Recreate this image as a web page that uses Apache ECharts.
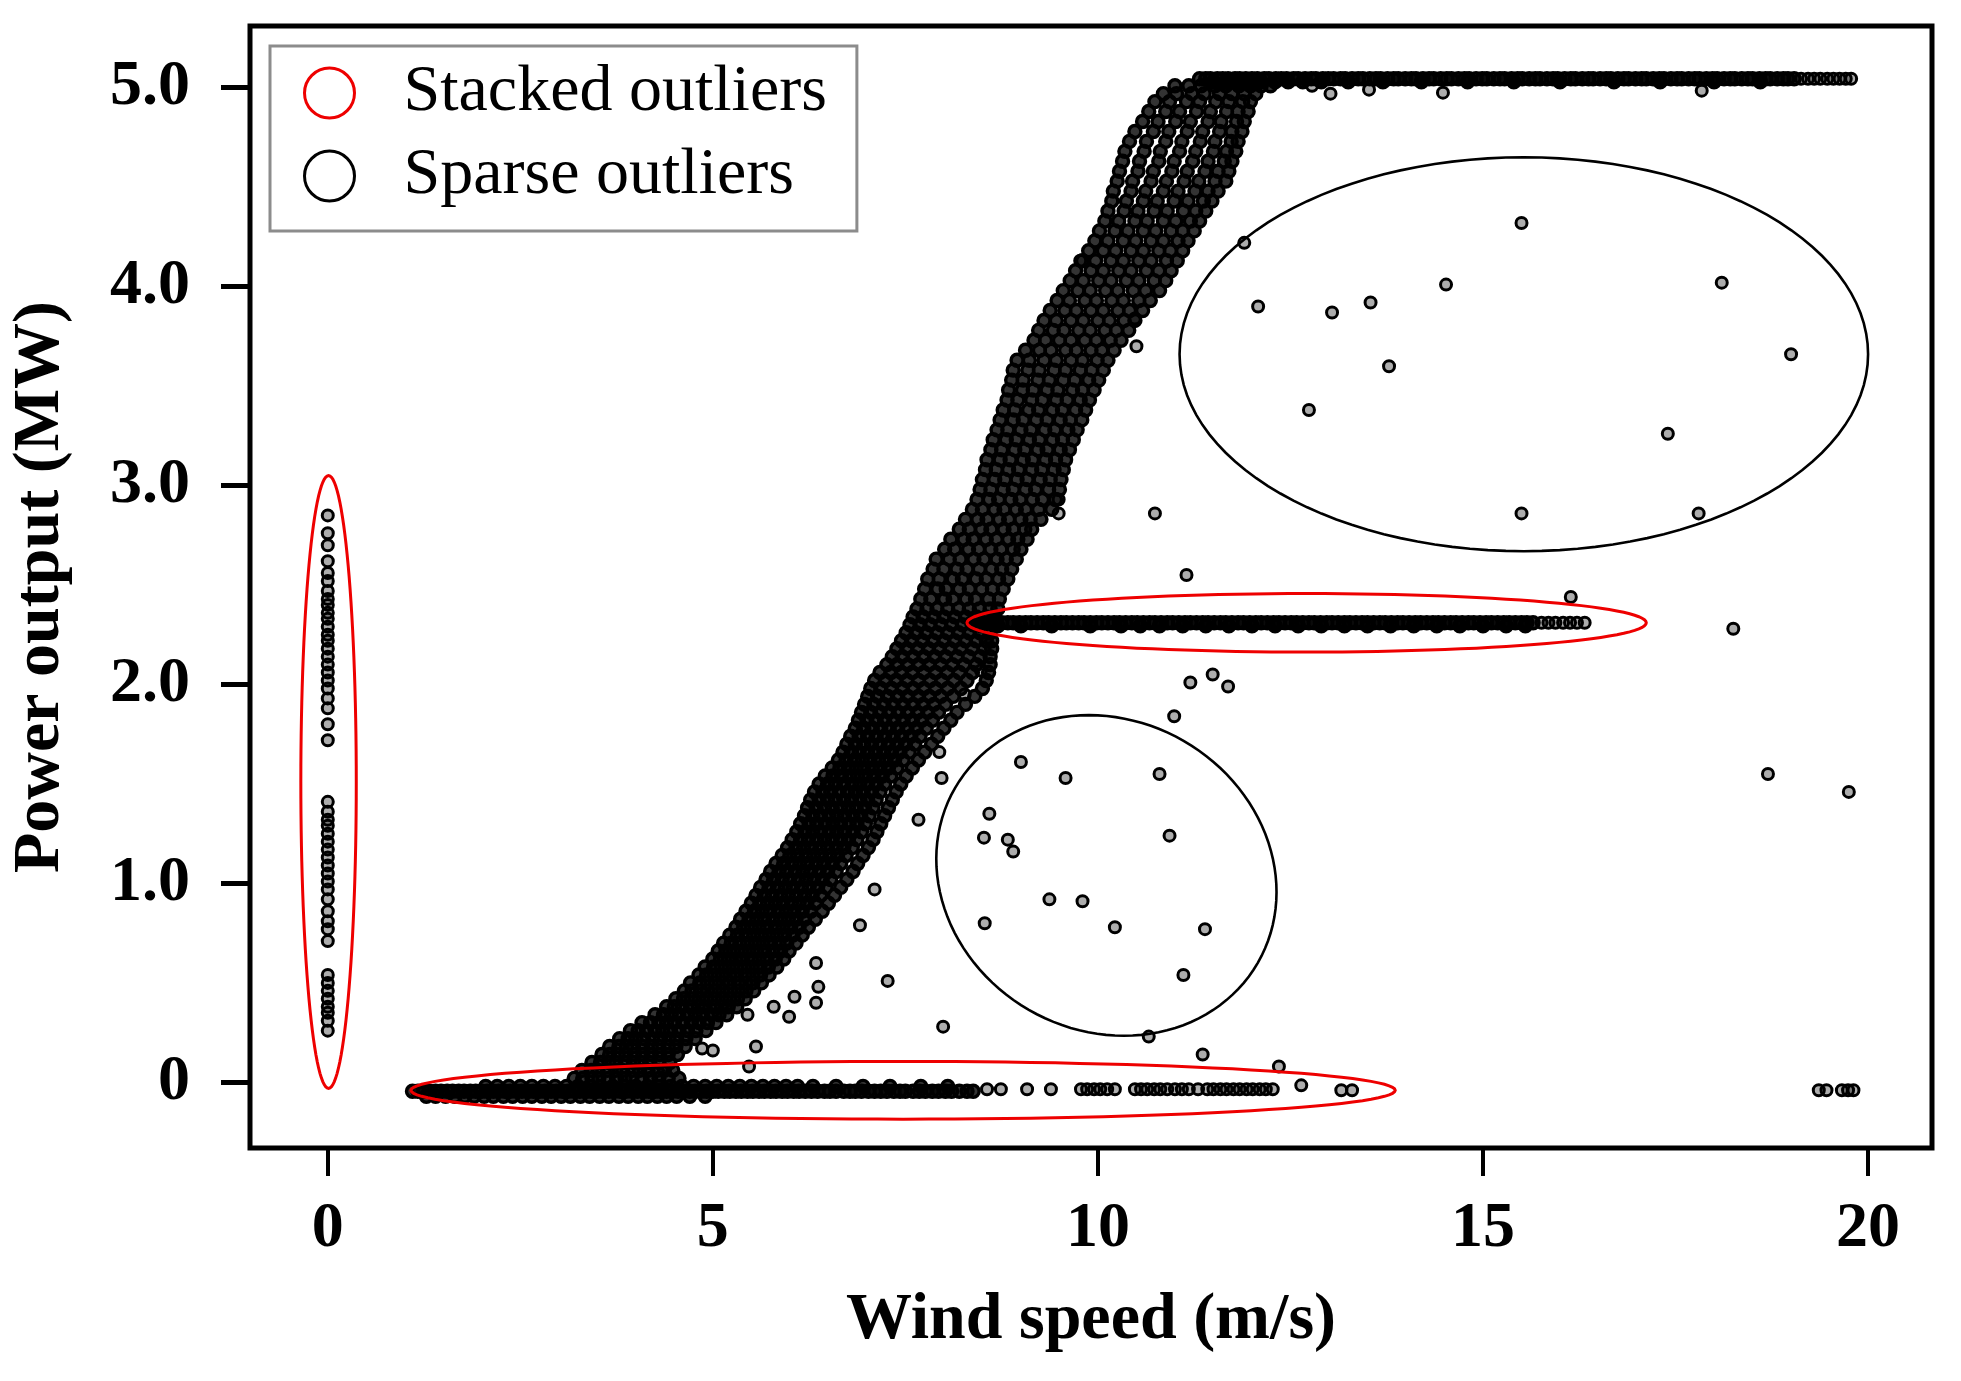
<!DOCTYPE html>
<html>
<head>
<meta charset="utf-8">
<title>Wind power curve outliers</title>
<script src="https://cdn.jsdelivr.net/npm/echarts@6/dist/echarts.min.js"></script>
<style>
html, body { margin: 0; padding: 0; background: #fff; }
#chart { width: 1961px; height: 1381px; }
</style>
</head>
<body>
<div id="chart"></div>
<script>
var serif = "'Liberation Serif', 'Times New Roman', serif";

// axis ticks
var xTicks = [0, 5, 10, 15, 20];
var yTicks = [0, 1, 2, 3, 4, 5];

// power recorded while wind speed reads 0 (transmission failure)
var zeroSpeedPower = [2.85, 2.76, 2.7, 2.62, 2.56, 2.52, 2.47, 2.43, 2.4, 2.36, 2.33, 2.29, 2.25, 2.22, 2.18, 2.14, 2.1, 2.06, 2.02, 1.98, 1.93, 1.88, 1.8, 1.72,
  1.41, 1.36, 1.32, 1.29, 1.25, 1.21, 1.17, 1.13, 1.09, 1.05, 1.01, 0.97, 0.92, 0.86, 0.81, 0.77, 0.71,
  0.54, 0.5, 0.46, 0.42, 0.38, 0.35, 0.31, 0.26];

// main power curve: [power, speed, speed, ...]
var curveRows = [
  [0.02, 3.2, 3.31, 3.43, 3.52, 3.64, 3.75, 3.86, 3.95, 4.08, 4.19, 4.3, 4.42, 4.56],
  [0.06, 3.3, 3.42, 3.51, 3.63, 3.74, 3.83, 3.96, 4.05, 4.16, 4.28, 4.37, 4.48],
  [0.10, 3.43, 3.54, 3.65, 3.74, 3.86, 3.97, 4.07, 4.18, 4.3, 4.44],
  [0.14, 3.56, 3.66, 3.77, 3.87, 3.98, 4.09, 4.2, 4.31, 4.42, 4.54],
  [0.18, 3.66, 3.78, 3.88, 3.97, 4.09, 4.2, 4.3, 4.42, 4.52, 4.64],
  [0.22, 3.79, 3.9, 4.0, 4.1, 4.22, 4.32, 4.43, 4.53, 4.65, 4.77],
  [0.26, 3.93, 4.03, 4.14, 4.25, 4.35, 4.45, 4.56, 4.67, 4.78, 4.91],
  [0.30, 4.08, 4.19, 4.3, 4.4, 4.5, 4.61, 4.72, 4.82, 4.93, 5.04],
  [0.34, 4.25, 4.36, 4.46, 4.56, 4.67, 4.77, 4.87, 4.98, 5.08, 5.18],
  [0.38, 4.4, 4.5, 4.6, 4.71, 4.81, 4.9, 5.01, 5.11, 5.2, 5.31],
  [0.42, 4.52, 4.62, 4.72, 4.82, 4.92, 5.02, 5.12, 5.22, 5.32, 5.42],
  [0.46, 4.63, 4.73, 4.84, 4.93, 5.03, 5.13, 5.23, 5.33, 5.43, 5.53],
  [0.50, 4.71, 4.83, 4.93, 5.03, 5.13, 5.22, 5.33, 5.43, 5.52, 5.63],
  [0.54, 4.82, 4.92, 5.02, 5.12, 5.22, 5.31, 5.42, 5.52, 5.62, 5.73],
  [0.58, 4.9, 5.01, 5.11, 5.21, 5.31, 5.41, 5.51, 5.61, 5.72, 5.83],
  [0.62, 5.0, 5.1, 5.2, 5.3, 5.39, 5.5, 5.6, 5.7, 5.81, 5.92],
  [0.66, 5.07, 5.17, 5.27, 5.37, 5.47, 5.57, 5.67, 5.78, 5.88, 5.99],
  [0.70, 5.14, 5.24, 5.35, 5.45, 5.55, 5.65, 5.75, 5.86, 5.96, 6.08],
  [0.74, 5.22, 5.32, 5.43, 5.53, 5.63, 5.73, 5.83, 5.93, 6.04, 6.16],
  [0.78, 5.3, 5.4, 5.5, 5.6, 5.7, 5.81, 5.91, 6.01, 6.12, 6.24],
  [0.82, 5.36, 5.47, 5.57, 5.67, 5.78, 5.88, 5.98, 6.08, 6.19, 6.33],
  [0.86, 5.43, 5.54, 5.64, 5.74, 5.85, 5.95, 6.05, 6.16, 6.27, 6.42],
  [0.90, 5.5, 5.61, 5.71, 5.81, 5.91, 6.02, 6.12, 6.22, 6.33, 6.5],
  [0.94, 5.56, 5.67, 5.77, 5.88, 5.98, 6.08, 6.19, 6.29, 6.4, 6.58],
  [0.98, 5.62, 5.73, 5.84, 5.94, 6.04, 6.15, 6.25, 6.36, 6.47, 6.66],
  [1.02, 5.69, 5.79, 5.9, 6.0, 6.11, 6.21, 6.31, 6.42, 6.53, 6.74],
  [1.06, 5.75, 5.86, 5.96, 6.07, 6.17, 6.27, 6.38, 6.49, 6.6, 6.82],
  [1.10, 5.82, 5.92, 6.03, 6.13, 6.23, 6.34, 6.44, 6.55, 6.66, 6.88],
  [1.14, 5.9, 6.0, 6.1, 6.21, 6.31, 6.41, 6.52, 6.62, 6.73, 6.95],
  [1.18, 5.97, 6.08, 6.18, 6.28, 6.39, 6.49, 6.6, 6.7, 6.81, 7.02],
  [1.22, 6.03, 6.14, 6.24, 6.35, 6.45, 6.55, 6.66, 6.76, 6.87, 7.08],
  [1.26, 6.09, 6.2, 6.3, 6.4, 6.51, 6.61, 6.71, 6.82, 6.93, 7.13],
  [1.30, 6.14, 6.25, 6.35, 6.46, 6.56, 6.66, 6.77, 6.87, 6.98, 7.18],
  [1.34, 6.19, 6.3, 6.4, 6.51, 6.61, 6.71, 6.82, 6.92, 7.03, 7.23],
  [1.38, 6.23, 6.34, 6.45, 6.55, 6.66, 6.76, 6.86, 6.97, 7.08, 7.28],
  [1.42, 6.27, 6.38, 6.49, 6.59, 6.7, 6.8, 6.91, 7.01, 7.12, 7.33],
  [1.46, 6.32, 6.43, 6.53, 6.64, 6.75, 6.85, 6.95, 7.06, 7.17, 7.38],
  [1.50, 6.38, 6.49, 6.59, 6.7, 6.81, 6.91, 7.01, 7.12, 7.23, 7.44],
  [1.54, 6.46, 6.56, 6.67, 6.78, 6.88, 6.98, 7.09, 7.2, 7.31, 7.51],
  [1.58, 6.55, 6.65, 6.76, 6.86, 6.96, 7.07, 7.17, 7.28, 7.39, 7.59],
  [1.62, 6.63, 6.73, 6.84, 6.94, 7.04, 7.15, 7.25, 7.36, 7.47, 7.67],
  [1.66, 6.69, 6.8, 6.9, 7.01, 7.11, 7.22, 7.32, 7.43, 7.55, 7.75],
  [1.70, 6.74, 6.85, 6.96, 7.06, 7.17, 7.28, 7.39, 7.5, 7.62, 7.84],
  [1.74, 6.79, 6.9, 7.01, 7.12, 7.23, 7.34, 7.45, 7.57, 7.69, 7.92],
  [1.78, 6.85, 6.96, 7.07, 7.18, 7.29, 7.4, 7.52, 7.64, 7.77, 8.0],
  [1.82, 6.89, 7.0, 7.12, 7.23, 7.35, 7.47, 7.59, 7.71, 7.85, 8.09],
  [1.86, 6.93, 7.05, 7.17, 7.29, 7.41, 7.53, 7.66, 7.79, 7.93, 8.17],
  [1.90, 6.97, 7.09, 7.22, 7.34, 7.47, 7.6, 7.73, 7.87, 8.02, 8.28],
  [1.94, 7.01, 7.14, 7.27, 7.4, 7.53, 7.67, 7.81, 7.96, 8.12, 8.4],
  [1.98, 7.05, 7.18, 7.32, 7.46, 7.6, 7.74, 7.89, 8.05, 8.22, 8.5],
  [2.02, 7.1, 7.24, 7.38, 7.52, 7.67, 7.82, 7.97, 8.13, 8.3, 8.55],
  [2.06, 7.17, 7.31, 7.45, 7.59, 7.74, 7.89, 8.04, 8.2, 8.37, 8.58],
  [2.10, 7.26, 7.39, 7.53, 7.67, 7.81, 7.96, 8.11, 8.26, 8.42, 8.6],
  [2.14, 7.33, 7.46, 7.6, 7.74, 7.88, 8.02, 8.17, 8.32, 8.47, 8.6],
  [2.18, 7.39, 7.52, 7.66, 7.8, 7.94, 8.08, 8.22, 8.37, 8.52, 8.62],
  [2.22, 7.45, 7.58, 7.72, 7.86, 8.0, 8.14, 8.28, 8.42, 8.55, 8.62],
  [2.26, 7.51, 7.64, 7.77, 7.91, 8.05, 8.19, 8.33, 8.47, 8.6],
  [2.30, 7.56, 7.69, 7.82, 7.96, 8.1, 8.24, 8.38, 8.51, 8.64],
  [2.34, 7.6, 7.73, 7.87, 8.0, 8.14, 8.28, 8.42, 8.55, 8.66],
  [2.38, 7.65, 7.78, 7.91, 8.05, 8.19, 8.33, 8.46, 8.6, 8.7],
  [2.43, 7.7, 7.83, 8.01, 8.12, 8.29, 8.41, 8.58, 8.72],
  [2.48, 7.75, 7.92, 8.03, 8.2, 8.33, 8.49, 8.63, 8.77],
  [2.53, 7.79, 7.94, 8.12, 8.24, 8.42, 8.55, 8.71, 8.83],
  [2.58, 7.86, 8.0, 8.17, 8.3, 8.46, 8.62, 8.75, 8.88],
  [2.63, 7.9, 8.07, 8.21, 8.39, 8.52, 8.69, 8.81, 8.94],
  [2.68, 8.01, 8.14, 8.32, 8.45, 8.61, 8.74, 8.9, 9.0],
  [2.73, 8.09, 8.26, 8.38, 8.55, 8.68, 8.84, 8.96, 9.08],
  [2.78, 8.2, 8.33, 8.49, 8.61, 8.78, 8.9, 9.05, 9.14],
  [2.83, 8.28, 8.44, 8.56, 8.72, 8.84, 9.0, 9.12, 9.26],
  [2.88, 8.37, 8.5, 8.66, 8.78, 8.94, 9.06, 9.23, 9.4],
  [2.93, 8.43, 8.59, 8.71, 8.87, 8.99, 9.15, 9.28, 9.45],
  [2.98, 8.47, 8.61, 8.77, 8.9, 9.06, 9.19, 9.36, 9.5],
  [3.03, 8.5, 8.66, 8.79, 8.95, 9.08, 9.25, 9.38, 9.52],
  [3.08, 8.54, 8.68, 8.84, 8.97, 9.14, 9.27, 9.43, 9.55],
  [3.13, 8.56, 8.73, 8.86, 9.03, 9.15, 9.32, 9.45, 9.58],
  [3.18, 8.61, 8.75, 8.92, 9.05, 9.22, 9.34, 9.51, 9.63],
  [3.23, 8.64, 8.81, 8.94, 9.11, 9.24, 9.41, 9.54, 9.68],
  [3.28, 8.69, 8.83, 9.0, 9.13, 9.31, 9.44, 9.61, 9.73],
  [3.33, 8.73, 8.9, 9.03, 9.2, 9.34, 9.51, 9.64, 9.79],
  [3.38, 8.77, 8.92, 9.1, 9.23, 9.41, 9.54, 9.71, 9.84],
  [3.43, 8.82, 8.96, 9.14, 9.28, 9.46, 9.6, 9.77, 9.89],
  [3.48, 8.84, 9.02, 9.16, 9.34, 9.48, 9.67, 9.8, 9.95],
  [3.53, 8.88, 9.03, 9.22, 9.37, 9.55, 9.7, 9.88, 10.01],
  [3.58, 8.9, 9.09, 9.24, 9.43, 9.58, 9.77, 9.92, 10.07],
  [3.63, 8.95, 9.11, 9.3, 9.46, 9.65, 9.8, 9.99, 10.13],
  [3.68, 9.06, 9.24, 9.39, 9.58, 9.72, 9.91, 10.05, 10.21],
  [3.73, 9.17, 9.32, 9.5, 9.65, 9.83, 9.98, 10.16, 10.3],
  [3.78, 9.23, 9.42, 9.56, 9.75, 9.9, 10.09, 10.24, 10.4],
  [3.83, 9.3, 9.46, 9.65, 9.81, 10.0, 10.15, 10.34, 10.48],
  [3.88, 9.38, 9.57, 9.72, 9.91, 10.07, 10.26, 10.41, 10.58],
  [3.93, 9.47, 9.63, 9.83, 9.98, 10.18, 10.33, 10.53, 10.68],
  [3.98, 9.55, 9.74, 9.9, 10.1, 10.26, 10.46, 10.62, 10.8],
  [4.03, 9.64, 9.81, 10.01, 10.17, 10.37, 10.53, 10.73, 10.88],
  [4.08, 9.71, 9.91, 10.07, 10.27, 10.43, 10.63, 10.79, 10.95],
  [4.13, 9.8, 9.97, 10.17, 10.33, 10.53, 10.69, 10.89, 11.03],
  [4.18, 9.88, 10.07, 10.23, 10.43, 10.59, 10.79, 10.94, 11.1],
  [4.23, 9.96, 10.13, 10.33, 10.49, 10.69, 10.85, 11.04, 11.17],
  [4.28, 10.02, 10.22, 10.39, 10.59, 10.75, 10.95, 11.1, 11.25],
  [4.33, 10.09, 10.27, 10.48, 10.64, 10.85, 11.01, 11.2, 11.32],
  [4.38, 10.13, 10.34, 10.52, 10.73, 10.9, 11.11, 11.27, 11.4],
  [4.43, 10.18, 10.37, 10.59, 10.77, 10.99, 11.17, 11.37, 11.48],
  [4.48, 10.2, 10.43, 10.62, 10.85, 11.04, 11.26, 11.43, 11.56],
  [4.53, 10.25, 10.45, 10.69, 10.89, 11.12, 11.31, 11.52, 11.66],
  [4.58, 10.28, 10.52, 10.72, 10.96, 11.16, 11.39, 11.56, 11.7],
  [4.63, 10.32, 10.54, 10.79, 10.99, 11.23, 11.43, 11.64, 11.74],
  [4.68, 10.35, 10.6, 10.81, 11.06, 11.27, 11.5, 11.67, 11.79],
  [4.73, 10.41, 10.63, 10.88, 11.09, 11.33, 11.52, 11.73, 11.82],
  [4.78, 10.48, 10.72, 10.92, 11.16, 11.36, 11.58, 11.74, 11.87],
  [4.83, 10.58, 10.78, 11.01, 11.2, 11.43, 11.6, 11.8, 11.9],
  [4.88, 10.66, 10.88, 11.06, 11.28, 11.46, 11.67, 11.82, 11.95],
  [4.93, 10.74, 10.93, 11.15, 11.32, 11.53, 11.7, 11.88, 11.98],
  [4.97, 10.85, 11.02, 11.22, 11.38, 11.58, 11.74, 11.9, 12.05],
  [5.01, 11.0, 11.18, 11.34, 11.52, 11.66, 11.83, 11.98, 12.12, 12.24]
];

// rated power plateau: [power, speed, ...]
var plateauRows = [
  [5.045, 11.32, 11.4, 11.46, 11.55, 11.62, 11.69, 11.78, 11.84, 11.92, 12.0, 12.07, 12.16, 12.22, 12.31, 12.38, 12.45, 12.54, 12.6, 12.69,
    12.77, 12.83, 12.92, 12.99, 13.06, 13.15, 13.21, 13.3, 13.38, 13.44, 13.53, 13.61, 13.67, 13.76, 13.84, 13.9, 13.99, 14.07, 14.13, 14.22,
    14.3, 14.36, 14.45, 14.53, 14.59, 14.68, 14.76, 14.82, 14.91, 14.99, 15.05, 15.14, 15.22, 15.28, 15.37, 15.45, 15.51, 15.6, 15.68, 15.74,
    15.83, 15.91, 15.97, 16.06, 16.14, 16.2, 16.29, 16.37, 16.43, 16.52, 16.6, 16.66, 16.75, 16.83, 16.89, 16.98, 17.06, 17.12, 17.21, 17.29,
    17.35, 17.44, 17.52, 17.58, 17.67, 17.75, 17.81, 17.9, 17.98, 18.04, 18.13, 18.21, 18.27, 18.36, 18.44, 18.5, 18.59, 18.67, 18.73, 18.82,
    18.9, 18.96, 19.04],
  [5.03, 11.5, 11.66, 11.81, 11.97, 12.12, 12.3, 12.47, 12.66, 12.9, 13.25, 13.7, 14.2, 14.8, 15.4, 16.0, 16.7, 17.3, 18.0, 18.6]
];

// curtailed output: [power, speed, ...]
var curtailRows = [
  [2.31, 8.36, 8.44, 8.52, 8.6, 8.67, 8.75, 8.83, 8.9, 8.98, 9.06, 9.13, 9.21, 9.29, 9.36, 9.44, 9.52, 9.59, 9.67, 9.75, 9.82, 9.9, 9.98,
    10.05, 10.13, 10.21, 10.28, 10.36, 10.44, 10.51, 10.59, 10.67, 10.74, 10.82, 10.9, 10.97, 11.05, 11.13, 11.2, 11.28, 11.36, 11.43, 11.51,
    11.59, 11.66, 11.74, 11.82, 11.89, 11.97, 12.05, 12.12, 12.2, 12.28, 12.35, 12.43, 12.51, 12.58, 12.66, 12.74, 12.81, 12.89, 12.97, 13.04,
    13.12, 13.2, 13.27, 13.35, 13.43, 13.5, 13.58, 13.66, 13.73, 13.81, 13.89, 13.96, 14.04, 14.12, 14.19, 14.27, 14.35, 14.42, 14.5, 14.58,
    14.65, 14.73, 14.81, 14.88, 14.96, 15.04, 15.11, 15.19, 15.27, 15.34, 15.42, 15.5, 15.57, 15.65],
  [2.295, 8.48, 8.7, 9.0, 9.4, 9.9, 10.3, 10.55, 10.8, 11.1, 11.4, 11.7, 12.0, 12.3, 12.6, 12.9, 13.2, 13.5, 13.8, 14.1, 14.4, 14.7, 15.0, 15.3, 15.55]
];

// turbine stopped: [power, speed, ...]
var shutdownRows = [
  [-0.045, 1.1, 1.17, 1.25, 1.32, 1.4, 1.47, 1.55, 1.62, 1.7, 1.77, 1.85, 1.92, 2.0, 2.07, 2.15, 2.22, 2.3, 2.37, 2.45, 2.52, 2.6, 2.67, 2.75,
    2.82, 2.9, 2.97, 3.05, 3.12, 3.2, 3.27, 3.35, 3.42, 3.5, 3.57, 3.65, 3.72, 3.8, 3.87, 3.95, 4.02, 4.1, 4.17, 4.25, 4.32, 4.4, 4.47, 4.55,
    4.62, 4.7, 4.77, 4.85, 4.92, 5.0, 5.07, 5.15, 5.22, 5.3, 5.37, 5.45, 5.52, 5.6, 5.67, 5.75, 5.82, 5.9, 5.97, 6.05, 6.12, 6.2, 6.28, 6.36,
    6.45, 6.52, 6.6, 6.7, 6.78, 6.85, 6.93, 7.02, 7.1, 7.18, 7.26, 7.35, 7.43, 7.5, 7.6, 7.68, 7.76, 7.85, 7.93, 8.02, 8.1, 8.2, 8.3, 8.38],
  [-0.07, 1.28, 1.4, 1.53, 1.65, 1.78, 1.9, 2.03, 2.15, 2.28, 2.4, 2.53, 2.65, 2.78, 2.9, 3.03, 3.15, 3.28, 3.4, 3.53, 3.65, 3.78, 3.9,
    4.03, 4.15, 4.28, 4.4, 4.53, 4.7, 4.9],
  [-0.02, 2.05, 2.2, 2.35, 2.5, 2.65, 2.8, 2.95, 3.1, 3.25, 3.4, 3.55, 3.7, 3.85, 4.0, 4.15, 4.3, 4.45, 4.6, 4.75, 4.9, 5.05, 5.2, 5.35,
    5.5, 5.65, 5.8, 5.95, 6.1, 6.3, 6.6, 6.95, 7.3, 7.7, 8.05]
];

// isolated or thinly spread points: [speed, power]
var sparsePoints = [
  [15.5, 4.32], [11.9, 4.22], [12.08, 3.9], [13.04, 3.87], [13.54, 3.92], [14.52, 4.01], [13.78, 3.6], [12.74, 3.38],
  [18.1, 4.02], [19.0, 3.66], [17.4, 3.26], [15.5, 2.86], [17.8, 2.86],
  [10.74, 2.86], [11.15, 2.55], [16.14, 2.44], [18.25, 2.28], [18.7, 1.55], [19.75, 1.46],
  [10.99, 1.84], [11.2, 2.01], [11.49, 2.05], [11.69, 1.99],
  [9.0, 1.61], [9.58, 1.53], [10.8, 1.55], [8.59, 1.35], [8.52, 1.23], [8.83, 1.22], [8.9, 1.16], [10.93, 1.24],
  [9.37, 0.92], [9.8, 0.91], [10.22, 0.78], [8.53, 0.8], [11.39, 0.77], [11.11, 0.54],
  [10.66, 0.23], [11.36, 0.14], [12.35, 0.08],
  [7.1, 0.97], [6.91, 0.79], [7.27, 0.51], [7.99, 0.28], [7.67, 1.32], [7.97, 1.53], [7.94, 1.66],
  [6.34, 0.6], [6.37, 0.48], [6.34, 0.4], [6.06, 0.43], [5.79, 0.38], [5.99, 0.33], [5.45, 0.34], [5.56, 0.18],
  [5.0, 0.16], [4.86, 0.17], [5.47, 0.08],
  [10.5, 3.7], [10.48, 3.84], [9.49, 2.93], [9.49, 2.86], [9.77, 4.13], [8.48, 2.07], [8.27, 1.95],
  [12.78, 5.01], [13.02, 4.97], [13.52, 4.99], [14.48, 4.975], [17.84, 4.985],
  [19.13, 5.045], [19.22, 5.045], [19.3, 5.045], [19.38, 5.045], [19.47, 5.045], [19.55, 5.045], [19.63, 5.045], [19.71, 5.045], [19.78, 5.045],
  [15.76, 2.31], [15.85, 2.31], [15.94, 2.31], [16.04, 2.31], [16.13, 2.31], [16.22, 2.31], [16.32, 2.31],
  [8.56, -0.035], [8.74, -0.035], [9.08, -0.035], [9.39, -0.035], [9.78, -0.035], [9.86, -0.035], [9.95, -0.035], [10.03, -0.035],
  [10.12, -0.035], [10.22, -0.035], [10.48, -0.035], [10.56, -0.035], [10.64, -0.035], [10.73, -0.035], [10.81, -0.035], [10.9, -0.035],
  [11.0, -0.035], [11.09, -0.035], [11.18, -0.035], [11.3, -0.035], [11.42, -0.035], [11.5, -0.035], [11.59, -0.035], [11.67, -0.035],
  [11.76, -0.035], [11.84, -0.035], [11.93, -0.035], [12.01, -0.035], [12.1, -0.035], [12.18, -0.035], [12.27, -0.035], [12.64, -0.015],
  [13.16, -0.04], [13.3, -0.04], [19.36, -0.04], [19.46, -0.04], [19.66, -0.04], [19.74, -0.04], [19.81, -0.04]
];

// outlier outlines: [centre speed, centre power, half width, half height, tilt deg]
var stackedEllipses = [[0.01, 1.51, 0.36, 1.54, 0], [12.71, 2.31, 4.41, 0.147, 0], [7.47, -0.04, 6.39, 0.145, 0]];
var sparseEllipses = [[15.53, 3.66, 4.47, 0.99, 0], [10.11, 1.04, 2.27, 0.78, 30]];

// text labels: [speed, power, text]
var notes = [[0.91, 2.83, 'Data transmission'], [0.91, 2.43, 'failure'], [12.43, 1.86, 'Wind curtailment'], [14.23, 0.0, 'Shutdown']];

function rowsToPoints(rows) {
  var pts = [];
  rows.forEach(function (r) {
    for (var i = 1; i < r.length; i++) pts.push([r[i], r[0]]);
  });
  return pts;
}

// crowded runs overlap into solid black; thin ones keep the ring look
var crowdedPoints = rowsToPoints(shutdownRows)
  .concat(rowsToPoints(curveRows))
  .concat(rowsToPoints(plateauRows))
  .concat(rowsToPoints(curtailRows));
var thinPoints = zeroSpeedPower.map(function (p) { return [0, p]; }).concat(sparsePoints);

function renderEllipse(params, api) {
  var c = api.coord([api.value(0), api.value(1)]);
  var s = api.size([api.value(2), api.value(3)]);
  var t = api.value(4) * Math.PI / 180;
  var pts = [];
  for (var k = 0; k < 120; k++) {
    var a = k / 120 * Math.PI * 2;
    var ex = s[0] * Math.cos(a), ey = s[1] * Math.sin(a);
    pts.push([c[0] + ex * Math.cos(t) - ey * Math.sin(t), c[1] + ex * Math.sin(t) + ey * Math.cos(t)]);
  }
  return {
    type: 'polygon',
    shape: { points: pts },
    style: { fill: 'none', stroke: api.visual('color'), lineWidth: params.seriesName === 'Stacked outliers' ? 3 : 2.6 }
  };
}

var chart = echarts.init(document.getElementById('chart'));
var option = {
  animation: false,
  backgroundColor: '#fff',
  grid: {
    left: 250, right: 29, top: 26, bottom: 233,
    show: true, borderColor: '#000', borderWidth: 5,
    outerBoundsMode: 'none'
  },
  legend: {
    orient: 'vertical',
    left: 270, top: 46,
    padding: [14, 30, 22, 33],
    itemWidth: 50, itemHeight: 50, itemGap: 17,
    borderColor: '#8c8c8c', borderWidth: 3,
    backgroundColor: '#fff',
    selectedMode: false,
    textStyle: { fontFamily: serif, fontSize: 66, color: '#000', padding: [0, 0, 0, 44] },
    data: [
      { name: 'Stacked outliers', icon: 'circle', itemStyle: { color: 'rgba(0,0,0,0)', borderColor: '#e00', borderWidth: 3 } },
      { name: 'Sparse outliers', icon: 'circle', itemStyle: { color: 'rgba(0,0,0,0)', borderColor: '#000', borderWidth: 3 } }
    ]
  },
  xAxis: {
    type: 'value',
    min: -1.01, max: 20.83,
    name: 'Wind speed (m/s)',
    nameLocation: 'middle',
    nameGap: 140,
    nameTextStyle: { fontFamily: serif, fontSize: 66, fontWeight: 'bold', color: '#000' },
    axisLine: { show: false, onZero: false },
    axisTick: { show: true, inside: false, length: 28, customValues: xTicks, lineStyle: { color: '#000', width: 4 } },
    axisLabel: { customValues: xTicks, margin: 49, fontFamily: serif, fontSize: 64, fontWeight: 'bold', color: '#000' },
    splitLine: { show: false }
  },
  yAxis: {
    type: 'value',
    min: -0.33, max: 5.31,
    name: 'Power output (MW)',
    nameLocation: 'middle',
    nameGap: 176,
    nameTextStyle: { fontFamily: serif, fontSize: 66, fontWeight: 'bold', color: '#000' },
    axisLine: { show: false, onZero: false },
    axisTick: { show: true, inside: false, length: 29, customValues: yTicks, lineStyle: { color: '#000', width: 5 } },
    axisLabel: {
      customValues: yTicks, margin: 60, fontFamily: serif, fontSize: 64, fontWeight: 'bold', color: '#000',
      formatter: function (v) { return v === 0 ? '0' : v.toFixed(1); }
    },
    splitLine: { show: false }
  },
  series: [
    {
      name: 'SCADA crowded',
      type: 'scatter',
      data: crowdedPoints,
      symbol: 'circle',
      symbolSize: 12,
      progressive: 0,
      itemStyle: { color: 'rgba(0,0,0,0.8)', borderColor: '#000', borderWidth: 3.4, opacity: 1 },
      z: 2
    },
    {
      name: 'SCADA thin',
      type: 'scatter',
      data: thinPoints,
      symbol: 'circle',
      symbolSize: 11,
      progressive: 0,
      itemStyle: { color: 'rgba(0,0,0,0.32)', borderColor: '#000', borderWidth: 3, opacity: 1 },
      z: 2
    },
    {
      name: 'Stacked outliers',
      type: 'custom',
      renderItem: renderEllipse,
      data: stackedEllipses,
      encode: { x: 0, y: 1 },
      itemStyle: { color: '#e00' },
      z: 3
    },
    {
      name: 'Sparse outliers',
      type: 'custom',
      renderItem: renderEllipse,
      data: sparseEllipses,
      encode: { x: 0, y: 1 },
      itemStyle: { color: '#000' },
      z: 3
    },
    {
      name: 'notes',
      type: 'scatter',
      symbolSize: 1,
      itemStyle: { opacity: 0 },
      data: notes.map(function (n) { return { name: n[2], value: [n[0], n[1]] }; }),
      label: {
        show: true,
        formatter: '{b}',
        position: [0, 0],
        align: 'left',
        verticalAlign: 'middle',
        fontFamily: serif,
        fontSize: 66,
        color: '#f00'
      },
      z: 4
    }
  ]
};
chart.setOption(option);
</script>
</body>
</html>
